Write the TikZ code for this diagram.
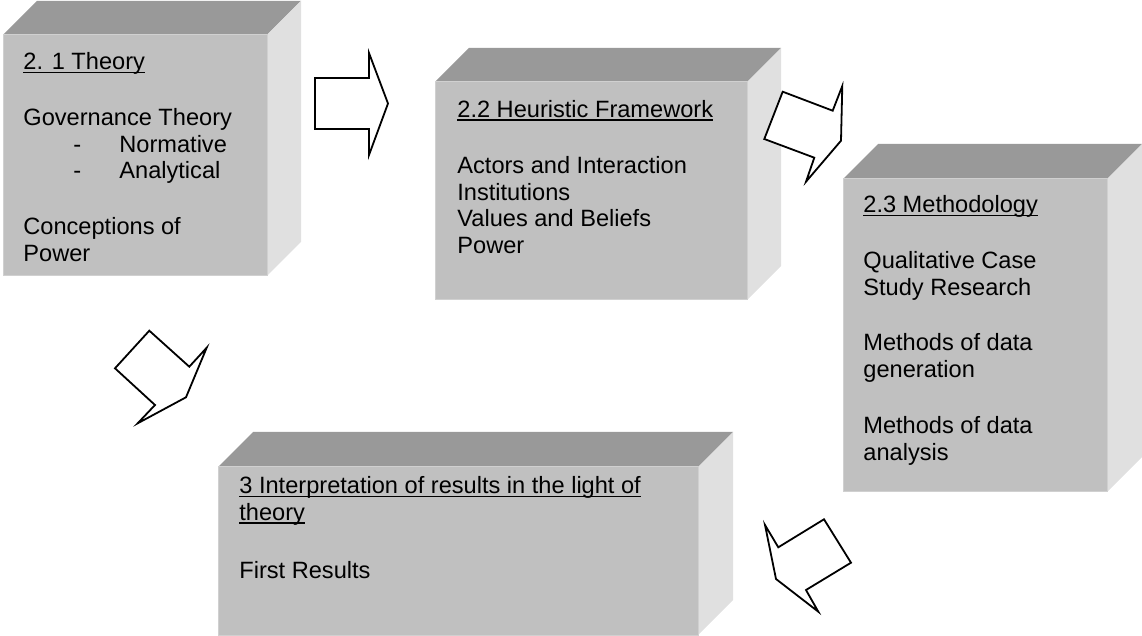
\documentclass[tikz,border=0pt]{standalone}
\usepackage{fontspec}
\usepackage{xcolor}
\setmainfont{Liberation Sans}

\definecolor{boxfront}{HTML}{C0C0C0}
\definecolor{boxtop}{HTML}{999999}
\definecolor{boxside}{HTML}{E0E0E0}
\definecolor{boxedge}{HTML}{D0D0D0}

% front corner (#1,#2), opposite front corner (#3,#4), depth #5
\newcommand{\slab}[5]{%
    \fill[boxtop] (#1,#2) -- (#1+#5,#2-#5) -- (#3+#5,#2-#5) -- (#3,#2) -- cycle;
    \fill[boxside] (#3,#2) -- (#3+#5,#2-#5) -- (#3+#5,#4-#5) -- (#3,#4) -- cycle;
    \filldraw[fill=boxfront, draw=boxedge, line width=0.5pt] (#1,#2) rectangle (#3,#4);
}
% underline at a fixed depth, crossing the descenders
\newcommand{\ulined}[1]{\setbox0\hbox{#1}\rlap{\rule[-1.6pt]{\wd0}{0.6pt}}\box0}

\begin{document}
\begin{tikzpicture}[x=0.5pt, y=-0.5pt,
    boxtext/.style={anchor=north west, align=left, inner sep=0pt,
        font=\fontsize{11.8pt}{13.4pt}\selectfont},
    blockarrow/.style={draw=black, fill=white, line width=0.9pt, line join=miter}]
    \useasboundingbox (0,0) rectangle (1142,636);

    \slab{3}{35}{267}{276}{34}
    \node[boxtext] (theory) at (23,52) {\ulined{2. 1 Theory}\\[14.5pt]
        Governance Theory\\
        \hspace*{25pt}\makebox[23pt][l]{-}Normative\\
        \hspace*{25pt}\makebox[23pt][l]{-}Analytical\\[14.5pt]
        Conceptions of\\ Power};

    \slab{435}{82}{747}{300}{34}
    \node[boxtext] (framework) at (457,100) {\ulined{2.2 Heuristic Framework}\\[14.5pt]
        Actors and Interaction\\ Institutions\\ Values and Beliefs\\ Power};

    \slab{843}{179}{1107}{492}{35}
    \node[boxtext] (method) at (863,195) {\ulined{2.3 Methodology}\\[14.5pt]
        Qualitative Case\\ Study Research\\[14.5pt]
        Methods of data\\ generation\\[14.5pt]
        Methods of data\\ analysis};

    \slab{218}{467}{698}{635}{35}
    \node[boxtext] (results) at (239,476) {\ulined{3 Interpretation of results in the light of}\\
        \ulined{theory}\\[15.5pt]
        First Results};

    % block arrows between the steps
    \draw[blockarrow] (315,78) -- (369,78) -- (369,53) -- (388,103.5)
        -- (369,155) -- (369,129) -- (315,129) -- cycle;
    \draw[blockarrow] (842.3,86) -- (832.7,110.7) -- (782.7,91.7) -- (764.3,139)
        -- (814.3,157.7) -- (806,181.7) -- (841,140.7) -- cycle;
    \draw[blockarrow] (765,525) -- (778.3,547.3) -- (824,519.3) -- (851,562.7)
        -- (806,590) -- (818.3,611.7) -- (776,579) -- cycle;
    \draw[blockarrow] (149.3,330.7) -- (189.3,366.7) -- (206.7,347.7) -- (186,397.3)
        -- (137.7,423.3) -- (155,405) -- (115,368.3) -- cycle;
\end{tikzpicture}
\end{document}
